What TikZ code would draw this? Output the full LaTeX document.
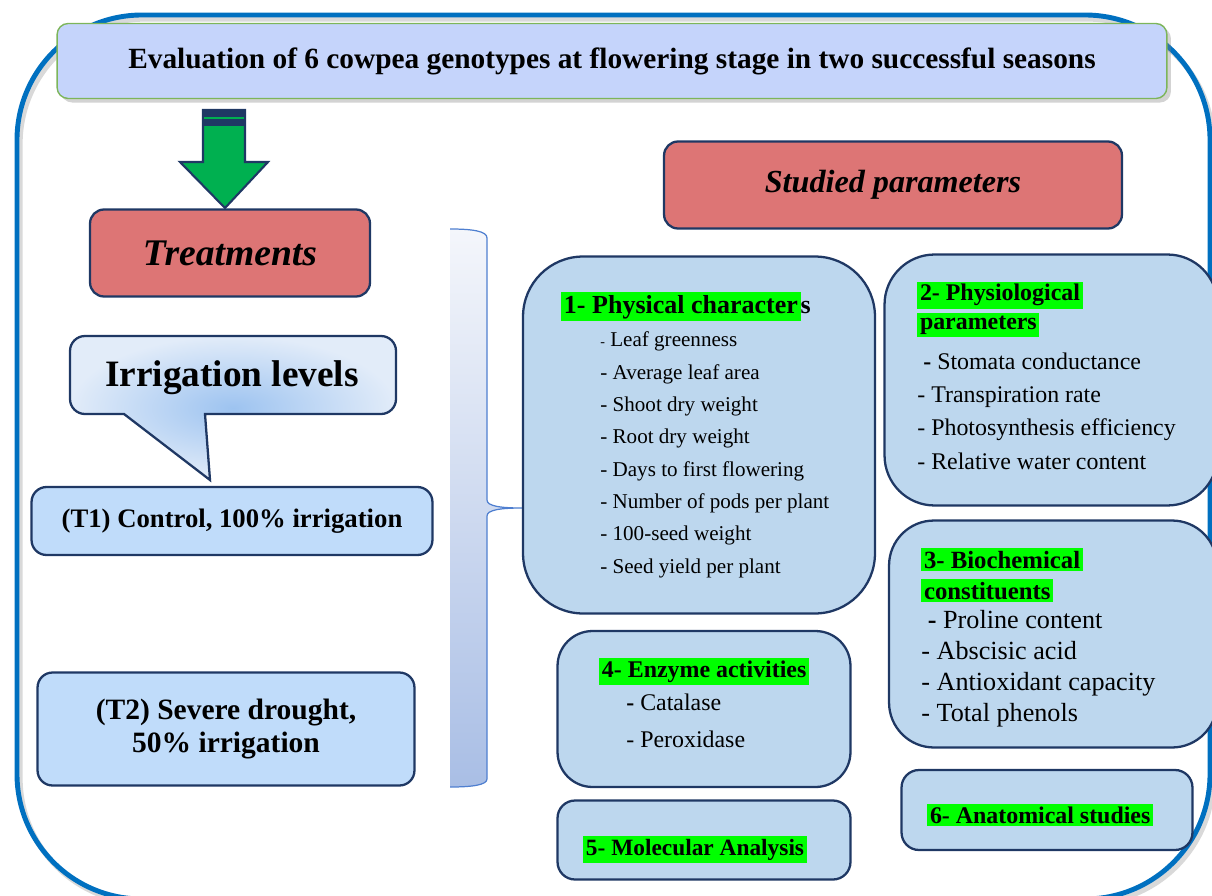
\documentclass[tikz,border=0pt]{standalone}
\usepackage{fontspec}
\setmainfont{Liberation Serif}
\usetikzlibrary{positioning,shadows}

\definecolor{frameblue}{HTML}{0070C0}
\definecolor{navy}{HTML}{1F3864}
\definecolor{titlefill}{HTML}{C5D4FB}
\definecolor{titleline}{HTML}{7DB55A}
\definecolor{redfill}{HTML}{DD7575}
\definecolor{boxfill}{HTML}{BDD7EE}
\definecolor{levelfill}{HTML}{C0DCFA}
\definecolor{arrowgreen}{HTML}{00B050}
\definecolor{hlgreen}{HTML}{00FF00}
\definecolor{calloutin}{HTML}{9DC3F0}
\definecolor{calloutout}{HTML}{E2ECF9}
\definecolor{bracetop}{HTML}{F4F6FB}
\definecolor{bracebot}{HTML}{A9BEE5}
\definecolor{bracedraw}{HTML}{4F7FD0}

\setlength{\fboxsep}{1.5pt}
\newcommand{\hlt}[1]{\colorbox{hlgreen}{#1}}

\begin{document}
\begin{tikzpicture}[
    x=0.02cm, y=-0.02cm,
    frame/.style={draw=frameblue, line width=2.8pt, rounded corners=2.5cm},
    titlebox/.style={rectangle, draw=titleline, fill=titlefill, line width=0.8pt, rounded corners=0.22cm, minimum width=22.2cm, minimum height=1.5cm, drop shadow={opacity=0.35}, font=\bfseries\fontsize{16.7}{20}\selectfont},
    redbox/.style={rectangle, draw=navy, fill=redfill, line width=1.3pt, rounded corners=0.28cm, minimum height=1.74cm},
    levelbox/.style={rectangle, draw=navy, fill=levelfill, line width=1.3pt, rounded corners=0.3cm, align=center},
    parbox/.style={rectangle, draw=navy, fill=boxfill, line width=1.3pt, inner sep=0pt},
    head/.style={anchor=base west, inner sep=0pt, align=left},
    items/.style={anchor=base west, inner sep=0pt, align=left},
    bigarrow/.style={draw=navy, fill=arrowgreen, line width=1.2pt, line join=miter},
    callout/.style={draw=navy, line width=1.3pt, inner color=calloutin, outer color=calloutout},
    bracefill/.style={top color=bracetop, bottom color=bracebot},
    braceline/.style={draw=bracedraw, line width=0.7pt}
]
    \useasboundingbox (0,0) rectangle (1212,895);
    \clip (0,0) rectangle (1212,895);

    % Outer frame
    \draw[gray!30, line width=3pt, rounded corners=2.5cm] (20,19) rectangle (1213,903);
    \draw[frame] (17,15) rectangle (1210,899);

    % Title
    \node[titlebox] (title) at (612,61) {Evaluation of 6 cowpea genotypes at flowering stage in two successful seasons};

    % Left side: treatments
    \draw[bigarrow] (203,110) -- (245,110) -- (245,162) -- (268,162) -- (225,208) -- (180,162) -- (203,162) -- cycle;
    \fill[navy] (203,110) rectangle (245,126);
    \fill[arrowgreen] (204,117) rectangle (244,119.5);

    \node[redbox, minimum width=5.6cm, font=\bfseries\itshape\fontsize{21.4}{25}\selectfont] (treat) at (230,253) {Treatments};

    \shade[callout, rounded corners=0.3cm] (124,414) -- (70,414) -- (70,336) -- (396,336) -- (396,414) [sharp corners] -- (205,414) -- (210,480) -- cycle;
    \node[font=\bfseries\fontsize{21.2}{25}\selectfont] (levels) at (232,378) {Irrigation levels};

    \node[levelbox, minimum width=8.02cm, minimum height=1.36cm, font=\bfseries\fontsize{15.2}{18}\selectfont] (ctrl) at (232,521) {(T1) Control, 100\% irrigation};
    \node[levelbox, minimum width=7.54cm, minimum height=2.26cm, font=\bfseries\fontsize{16.8}{18.5}\selectfont] (drought) at (226,729) {(T2) Severe drought,\\50\% irrigation};

    % Brace
    \shade[bracefill] (450,229) .. controls (472,229) and (487,231) .. (487,238) -- (487,500) .. controls (487,506) and (500,508) .. (522,508) .. controls (500,508) and (487,510) .. (487,516) -- (487,779) .. controls (487,785) and (472,787) .. (450,787) -- cycle;
    \draw[braceline] (450,229) .. controls (472,229) and (487,231) .. (487,238) -- (487,500) .. controls (487,506) and (500,508) .. (522,508) .. controls (500,508) and (487,510) .. (487,516) -- (487,779) .. controls (487,785) and (472,787) .. (450,787);

    % Right side: studied parameters
    \node[redbox, minimum width=9.16cm, font=\bfseries\itshape\fontsize{18.3}{22}\selectfont] (params) at (893,185) {Studied parameters};

    \node[parbox, minimum width=7.04cm, minimum height=7.14cm, rounded corners=1.2cm] (phys) at (699,435) {};
    \node[head, font=\bfseries\fontsize{14.8}{17}\selectfont] (physhead) at (561,313) {\hlt{1- Physical character}s};
    \node[items, font=\fontsize{12}{18.4}\selectfont] (physlist) at (600,573) {{\fontsize{8}{8}\selectfont -} Leaf greenness\\- Average leaf area\\- Shoot dry weight\\- Root dry weight\\- Days to first flowering\\- Number of pods per plant\\- 100-seed weight\\- Seed yield per plant};

    \node[parbox, minimum width=6.66cm, minimum height=5.02cm, rounded corners=1cm] (physio) at (1051,380) {};
    \node[head, font=\bfseries\fontsize{13.6}{16}\selectfont] (physiohead) at (917,329) {\hlt{2- Physiological}\\\hlt{parameters}};
    \node[items, font=\fontsize{13.6}{18.8}\selectfont] (physiolist) at (917,469) {\ \textbf{-} Stomata conductance\\- Transpiration rate\\- Photosynthesis efficiency\\- Relative water content};

    \node[parbox, minimum width=6.56cm, minimum height=4.54cm, rounded corners=0.9cm] (biochem) at (1053,634) {};
    \node[head, font=\bfseries\fontsize{14.1}{17.6}\selectfont] (biohead) at (921,599) {\hlt{3- Biochemical}\\\hlt{constituents}};
    \node[items, font=\fontsize{14.9}{17.5}\selectfont] (biolist) at (921,721) {\ \textbf{-} Proline content\\- Abscisic acid\\- Antioxidant capacity\\- Total phenols};

    \node[parbox, minimum width=5.86cm, minimum height=3.12cm, rounded corners=0.7cm] (enzyme) at (704,709) {};
    \node[head, font=\bfseries\fontsize{13.6}{16}\selectfont] (enzhead) at (599,677) {\hlt{4- Enzyme activities}};
    \node[items, font=\fontsize{13.6}{21}\selectfont] (enzlist) at (626,747) {\textbf{-} Catalase\\- Peroxidase};

    \node[parbox, minimum width=5.86cm, minimum height=1.58cm, rounded corners=0.35cm] (molec) at (704,840) {};
    \node[head, font=\bfseries\fontsize{13.3}{16}\selectfont] (molhead) at (583,855) {\hlt{5- Molecular Analysis}};

    \node[parbox, minimum width=5.82cm, minimum height=1.6cm, rounded corners=0.35cm] (anat) at (1047,810) {};
    \node[head, font=\bfseries\fontsize{13.6}{16}\selectfont] (anathead) at (927,823) {\hlt{6- Anatomical studies}};

\end{tikzpicture}
\end{document}
